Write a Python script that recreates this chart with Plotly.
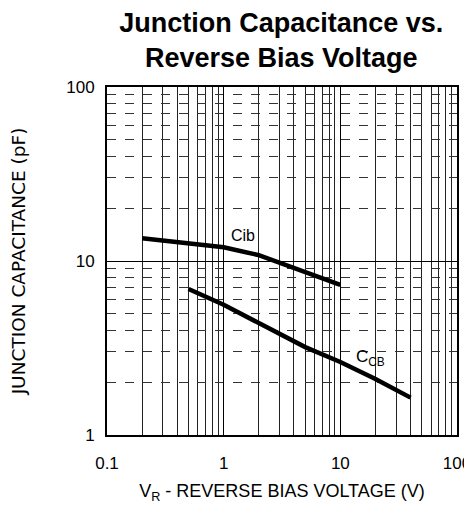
import plotly.graph_objects as go

# Data
cib_v = [0.2, 0.5, 1, 2, 5, 10]
cib_c = [13.5, 12.6, 12.0, 10.8, 8.6, 7.3]
ccb_v = [0.5, 1, 2, 5, 10, 20, 40]
ccb_c = [6.9, 5.6, 4.4, 3.2, 2.63, 2.1, 1.64]

x_ticks = [0.1, 1, 10, 100]
x_tick_text = ["0.1", "1", "10", "100"]
y_ticks = [1, 10, 100]
y_tick_text = ["1", "10", "100"]
minor_mult = [2, 3, 4, 5, 6, 7, 8, 9]

x_minor = [m * d for d in [0.1, 1, 10] for m in minor_mult]
y_minor = [m * d for d in [1, 10] for m in minor_mult]

fig = go.Figure()
fig.add_trace(go.Scatter(x=cib_v, y=cib_c, mode="lines",
                         line=dict(color="black", width=4.5),
                         showlegend=False))
fig.add_trace(go.Scatter(x=ccb_v, y=ccb_c, mode="lines",
                         line=dict(color="black", width=4.5),
                         showlegend=False))

sans = "Liberation Sans, Arial, Helvetica, sans-serif"
wide = "DejaVu Sans, Liberation Sans, Arial, sans-serif"

fig.add_annotation(x=0.166, y=1.149, xref="x", yref="y", text="Cib", showarrow=False,
                   font=dict(family=sans, size=16, color="black"))
fig.add_annotation(x=1.26, y=0.44, xref="x", yref="y", text="C<sub>CB</sub>", showarrow=False,
                   font=dict(family=sans, size=17, color="black"))

# the page adds an 8px body margin, so the figure is sized to fit without scrollbars
fig.update_layout(
    width=464, height=500,
    margin=dict(l=99, r=15, t=79, b=73),
    paper_bgcolor="white", plot_bgcolor="white",
    title=dict(text="<b>Junction Capacitance vs.<br>Reverse Bias Voltage</b>",
               x=0.589, xanchor="center", y=0.952, yanchor="top",
               font=dict(family=sans, size=27, color="black")),
    xaxis=dict(type="log", range=[-1, 2], tickvals=x_ticks, ticktext=x_tick_text,
               showgrid=True, gridcolor="black", gridwidth=1,
               minor=dict(tickvals=x_minor, showgrid=True, gridcolor="#222", gridwidth=1, ticks=""),
               showline=True, linecolor="black", linewidth=2, mirror=True,
               ticks="", zeroline=False, automargin=False,
               ticklabelstandoff=12,
               tickfont=dict(family=sans, size=17, color="black"),
               title=dict(text="V<sub>R</sub> - REVERSE BIAS VOLTAGE (V)", standoff=12,
                          font=dict(family=sans, size=18, color="black"))),
    yaxis=dict(type="log", range=[0, 2], tickvals=y_ticks, ticktext=y_tick_text,
               showgrid=True, gridcolor="black", gridwidth=1,
               minor=dict(tickvals=y_minor, showgrid=True, gridcolor="#333", gridwidth=1,
                          griddash="dash", ticks=""),
               showline=True, linecolor="black", linewidth=2, mirror=True,
               ticks="", zeroline=False, automargin=False,
               ticklabelstandoff=7,
               tickfont=dict(family=sans, size=17, color="black"),
               title=dict(text="JUNCTION CAPACITANCE (pF)", standoff=40,
                          font=dict(family=wide, size=18.5, color="black"))),
)

fig.write_html("out.html")
